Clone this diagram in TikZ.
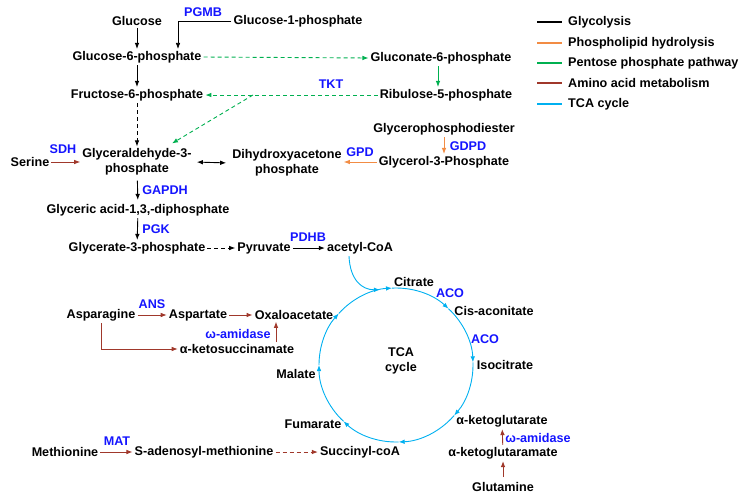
\documentclass[tikz,border=0pt]{standalone}
\usepackage{fontspec}
\setmainfont{Liberation Sans}
\usetikzlibrary{arrows.meta,calc}
\definecolor{phos}{RGB}{242,140,68}
\definecolor{ppp}{RGB}{0,176,80}
\definecolor{amino}{RGB}{160,56,43}
\definecolor{tcac}{RGB}{0,176,240}
\definecolor{enz}{RGB}{20,20,255}
\begin{document}
\begin{tikzpicture}[x=1pt,y=-1pt,
  lbl/.style={font=\fontsize{12.6}{15}\selectfont\bfseries, inner sep=2pt, align=center},
  enzl/.style={lbl, text=enz},
  tip/.style={-{Latex[length=6pt,width=4.6pt]}},
  glyl/.style={tip, draw=black, line width=0.9pt},
  phosl/.style={tip, draw=phos, line width=0.9pt},
  pppl/.style={tip, draw=ppp, line width=0.9pt},
  aminol/.style={tip, draw=amino, line width=0.9pt},
  tcal/.style={tip, draw=tcac, line width=0.9pt},
  dsh/.style={dash pattern=on 4pt off 3pt},
  legl/.style={line width=1.6pt}
]
\useasboundingbox (0,0) rectangle (747,501);

% ---------- nodes ----------
\node[lbl] (glc) at (137,21) {Glucose};
\node[enzl] (pgmb) at (203,12) {PGMB};
\node[lbl] (g1p) at (298,21) {Glucose-1-phosphate};
\node[lbl] (g6p) at (137,57) {Glucose-6-phosphate};
\node[lbl] (f6p) at (137,95) {Fructose-6-phosphate};
\node[lbl] (gl6p) at (441,58) {Gluconate-6-phosphate};
\node[lbl] (r5p) at (446,95) {Ribulose-5-phosphate};
\node[enzl] (tkt) at (331,84) {TKT};
\node[lbl] (gpde) at (444,129) {Glycerophosphodiester};
\node[enzl] (gdpd) at (468,146) {GDPD};
\node[lbl] (gro3p) at (444,162) {Glycerol-3-Phosphate};
\node[enzl] (gpd) at (360,152) {GPD};
\node[lbl] (dhap) at (287,163) {Dihydroxyacetone\\phosphate};
\node[lbl] (gap) at (137,162) {Glyceraldehyde-3-\\phosphate};
\node[lbl] (ser) at (30,162) {Serine};
\node[enzl] (sdh) at (63,149) {SDH};
\node[enzl] (gapdh) at (165,190) {GAPDH};
\node[lbl] (bpg) at (138,210) {Glyceric acid-1,3,-diphosphate};
\node[enzl] (pgk) at (156,229) {PGK};
\node[lbl] (g3p) at (137,248) {Glycerate-3-phosphate};
\node[lbl] (pyr) at (264,248) {Pyruvate};
\node[enzl] (pdhb) at (308,237) {PDHB};
\node[lbl] (acoa) at (360,248) {acetyl-CoA};

\node[lbl] (cit) at (414,282) {Citrate};
\node[enzl] (aco1) at (450,293) {ACO};
\node[lbl] (cis) at (494,311) {Cis-aconitate};
\node[enzl] (aco2) at (485,339) {ACO};
\node[lbl] (iso) at (505,365) {Isocitrate};
\node[lbl] (tca) at (401,361) {TCA\\cycle};
\node[lbl] (mal) at (296,374) {Malate};
\node[lbl] (fum) at (313,424) {Fumarate};
\node[lbl] (suc) at (360,452) {Succinyl-coA};
\node[lbl] (akg) at (502,421) {α-ketoglutarate};
\node[enzl] (wam2) at (538,438) {ω-amidase};
\node[lbl] (akgm) at (503,453) {α-ketoglutaramate};
\node[lbl] (gln) at (503,487) {Glutamine};

\node[lbl] (asn) at (101,315) {Asparagine};
\node[enzl] (ans) at (152,304) {ANS};
\node[lbl] (asp) at (198,315) {Aspartate};
\node[lbl] (oaa) at (294,315) {Oxaloacetate};
\node[enzl] (wam1) at (238,334) {ω-amidase};
\node[lbl] (aks) at (237,349) {α-ketosuccinamate};

\node[lbl] (met) at (65,452) {Methionine};
\node[enzl] (mat) at (117,441) {MAT};
\node[lbl] (sam) at (204,452) {S-adenosyl-methionine};

% ---------- legend ----------
\node[lbl, anchor=west] (lg1) at (566,22) {Glycolysis};
\node[lbl, anchor=west] (lg2) at (566,43) {Phospholipid hydrolysis};
\node[lbl, anchor=west] (lg3) at (566,63) {Pentose phosphate pathway};
\node[lbl, anchor=west] (lg4) at (566,83) {Amino acid metabolism};
\node[lbl, anchor=west] (lg5) at (566,104) {TCA cycle};
\draw[legl, black] ([xshift=-29pt]lg1.west) -- ([xshift=-4pt]lg1.west);
\draw[legl, phos] ([xshift=-29pt]lg2.west) -- ([xshift=-4pt]lg2.west);
\draw[legl, ppp] ([xshift=-29pt]lg3.west) -- ([xshift=-4pt]lg3.west);
\draw[legl, amino] ([xshift=-29pt]lg4.west) -- ([xshift=-4pt]lg4.west);
\draw[legl, tcac] ([xshift=-29pt]lg5.west) -- ([xshift=-4pt]lg5.west);

% ---------- glycolysis ----------
\draw[glyl] (glc) -- (g6p);
\draw[glyl, line width=0.7pt] (g1p.west) -| ($(g6p.north)+(41,0)$);
\draw[glyl] (g6p) -- (f6p);
\draw[glyl, dsh] (f6p) -- (gap);
\draw[glyl, {Latex[length=6pt,width=4.6pt]}-{Latex[length=6pt,width=4.6pt]}, shorten <=3pt, shorten >=4pt] (gap.east) -- (dhap.west);
\draw[glyl, shorten <=3pt, shorten >=2pt] (gap) -- (bpg);
\draw[glyl] (bpg) -- (g3p);
\draw[glyl, dsh] (g3p.east) -- (pyr.west);
\draw[glyl] (pyr.east) -- (acoa.west);

% ---------- pentose phosphate ----------
\draw[pppl, dsh] (g6p.east) -- (gl6p.west);
\draw[pppl] ([xshift=-3pt]gl6p.south) -- ([xshift=-8pt]r5p.north);
\draw[pppl, dsh] (r5p.west) -- (f6p.east);
\coordinate (br) at (253,95);
\draw[pppl, dsh] (br) -- ($(gap.north)+(35,-3)$);

% ---------- phospholipid ----------
\draw[phosl] (gpde) -- (gro3p);
\draw[phosl] (gro3p.west) -- (gro3p.west -| dhap.east);

% ---------- amino acid ----------
\draw[aminol] (ser.east) -- (ser.east -| gap.west);
\draw[aminol] (asn.east) -- (asp.west);
\draw[aminol] (asp.east) -- (oaa.west);
\draw[aminol] (asn.south) |- (aks.west);
\draw[aminol] ([xshift=39pt]aks.north) -- ([xshift=-18pt]oaa.south);
\draw[aminol] (met.east) -- (sam.west);
\draw[aminol, dsh] (sam.east) -- (suc.west);
\draw[aminol] (akgm) -- (akg);
\draw[aminol, shorten <=3pt] (gln) -- (akgm);

% ---------- TCA cycle ----------
\coordinate (C) at (396,365);
\foreach \a/\b in {93/47, 47/2, 2/-41, -41/-88, -88/-133, -133/-180, -180/-222, -222/-267}
  \draw[tcal] ([shift={(\a:77pt)}]C) arc[start angle=\a, end angle=\b, radius=77pt];
\coordinate (join) at ([shift={(102:77pt)}]C);
\draw[tcal] ([xshift=-11pt]acoa.south) .. controls (350,280) and (362,290) .. (join);
\end{tikzpicture}
\end{document}
